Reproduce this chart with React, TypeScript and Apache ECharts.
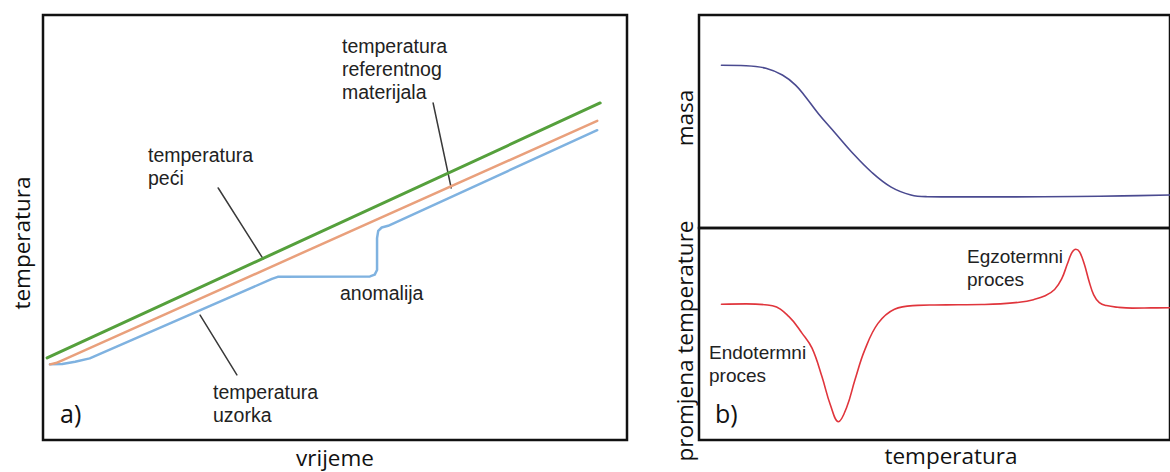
import React, { useEffect, useRef } from "react";
import * as echarts from "echarts";

// ---- Panel a): temperature vs time (x: time 0..100, y: temperature 0..100)
const furnaceTemp: number[][] = [
  [0.7, 19.3],
  [95.4, 79.3],
];
const referenceTemp: number[][] = [
  [1.2, 17.8],
  [2.2, 18.1],
  [3.4, 18.8],
  [94.9, 75.1],
];
const sampleTemp: number[][] = [
  [1.2, 17.8],
  [3.3, 17.9],
  [5.5, 18.4],
  [8.0, 19.2],
  [39.2, 37.9],
  [40.2, 38.4],
  [56.0, 38.5],
  [56.8, 38.9],
  [57.2, 40.0],
  [57.2, 47.5],
  [57.4, 49.2],
  [58.0, 50.0],
  [59.1, 50.4],
  [94.9, 72.9],
];
const leaderFurnace: number[][] = [
  [30.0, 59.3],
  [37.7, 42.6],
];
const leaderReference: number[][] = [
  [66.8, 79.3],
  [69.9, 59.3],
];
const leaderSample: number[][] = [
  [26.9, 29.4],
  [33.2, 15.3],
];

// ---- Panel b): mass and temperature change vs temperature (x: 0..100)
const massCurve: number[][] = [
  [4.77, 76.4],
  [10.0, 76.2],
  [14.2, 75.0],
  [17.7, 71.8],
  [20.5, 67.1],
  [22.6, 61.6],
  [25.4, 53.5],
  [28.9, 44.6],
  [32.4, 35.7],
  [36.6, 26.3],
  [40.8, 19.2],
  [45.0, 15.5],
  [48.5, 14.7],
  [55.0, 14.6],
  [66.0, 14.6],
  [80.0, 14.8],
  [90.0, 15.1],
  [100, 15.5],
];
const deltaTCurve: number[][] = [
  [4.77, 64.0],
  [10.0, 64.2],
  [15.6, 63.3],
  [19.1, 58.2],
  [21.9, 50.3],
  [24.0, 43.3],
  [26.1, 29.9],
  [27.9, 16.5],
  [29.6, 8.6],
  [31.4, 15.7],
  [33.1, 28.3],
  [35.2, 42.5],
  [38.0, 55.0],
  [41.5, 61.7],
  [46.4, 63.5],
  [50.0, 63.7],
  [55.0, 63.8],
  [60.0, 63.9],
  [64.0, 64.2],
  [68.0, 65.0],
  [71.0, 66.2],
  [73.5, 68.0],
  [75.5, 71.0],
  [77.0, 76.0],
  [78.2, 83.0],
  [79.2, 88.5],
  [80.0, 90.0],
  [80.8, 88.7],
  [81.8, 83.0],
  [82.8, 75.0],
  [83.8, 68.5],
  [85.0, 64.8],
  [86.5, 63.4],
  [89.0, 62.6],
  [92.0, 62.2],
  [96.0, 62.3],
  [100, 62.4],
];

const ARIAL = "'Liberation Sans', Arial, sans-serif";
const OPEN = "'Open Sans', sans-serif";

function txt(
  text: string,
  x: number,
  y: number,
  opts: {
    size?: number;
    family?: string;
    align?: string;
    vAlign?: string;
    lineHeight?: number;
    rotation?: number;
    fill?: string;
  } = {}
) {
  const align = opts.align || "left";
  const vAlign = opts.vAlign || "top";
  return {
    type: "text",
    x,
    y,
    rotation: opts.rotation || 0,
    silent: true,
    z: 100,
    style: {
      text,
      fill: opts.fill || "#222",
      fontSize: opts.size || 19.5,
      fontFamily: opts.family || ARIAL,
      lineHeight: opts.lineHeight || 23,
      align,
      textAlign: align,
      verticalAlign: vAlign,
      textVerticalAlign: vAlign,
    },
  };
}

export default function App() {
  const ref = useRef<HTMLDivElement>(null);

  useEffect(() => {
    if (!ref.current) return;
    const chart = echarts.init(ref.current, undefined, { renderer: "svg" });

    const border = { show: true, borderColor: "#111", borderWidth: 2.5, backgroundColor: "transparent" };
    const lineSeries = (data: number[][], idx: number, color: string, width: number, smooth: any = false) => ({
      type: "line",
      xAxisIndex: idx,
      yAxisIndex: idx,
      data,
      smooth,
      symbol: "none",
      showSymbol: false,
      silent: true,
      lineStyle: { color, width, cap: "round", join: "round" },
    });

    chart.setOption({
      animation: false,
      backgroundColor: "#fff",
      grid: [
        { left: 43, top: 15, width: 584, height: 425, ...border },
        { left: 699, top: 15, width: 476, height: 213, ...border },
        { left: 699, top: 228, width: 476, height: 212, ...border },
      ],
      xAxis: [0, 1, 2].map((i) => ({ type: "value", gridIndex: i, min: 0, max: 100, show: false })),
      yAxis: [0, 1, 2].map((i) => ({ type: "value", gridIndex: i, min: 0, max: 100, show: false })),
      series: [
        lineSeries(leaderFurnace, 0, "#3a3a3a", 1.5),
        lineSeries(leaderReference, 0, "#3a3a3a", 1.5),
        lineSeries(leaderSample, 0, "#3a3a3a", 1.5),
        lineSeries(sampleTemp, 0, "#7fb2e0", 2.5),
        lineSeries(referenceTemp, 0, "#e9a07c", 2.5),
        lineSeries(furnaceTemp, 0, "#55a03c", 3),
        lineSeries(massCurve, 1, "#4a4a90", 1.6, 0.4),
        lineSeries(deltaTCurve, 2, "#e0353c", 1.6, 0.4),
      ],
      graphic: [
        txt("temperatura\nreferentnog\nmaterijala", 342, 34),
        txt("temperatura\npeći", 148, 143),
        txt("anomalija", 340, 293, { vAlign: "middle" }),
        txt("temperatura\nuzorka", 213, 380),
        txt("Endotermni\nproces", 709, 341, { size: 19 }),
        txt("Egzotermni\nproces", 967, 245, { size: 19 }),
        txt("a)", 60, 413, { size: 25, family: OPEN, vAlign: "middle", fill: "#111" }),
        txt("b)", 715, 413, { size: 25, family: OPEN, vAlign: "middle", fill: "#111" }),
        txt("vrijeme", 335, 457, { size: 22.5, family: OPEN, align: "center", vAlign: "middle", fill: "#111" }),
        txt("temperatura", 951, 455, { size: 22.5, family: OPEN, align: "center", vAlign: "middle", fill: "#111" }),
        txt("temperatura", 21, 243, {
          size: 22.5,
          family: OPEN,
          align: "center",
          vAlign: "middle",
          rotation: Math.PI / 2,
          fill: "#111",
        }),
        txt("masa", 684, 118, {
          size: 22.5,
          family: OPEN,
          align: "center",
          vAlign: "middle",
          rotation: Math.PI / 2,
          fill: "#111",
        }),
        txt("promjena temperature", 684, 341, {
          size: 22.5,
          family: OPEN,
          align: "center",
          vAlign: "middle",
          rotation: Math.PI / 2,
          fill: "#111",
        }),
      ],
    });

    return () => {
      chart.dispose();
    };
  }, []);

  return (
    <div
      ref={ref}
      style={{ position: "absolute", left: 0, top: 0, width: 1170, height: 472, background: "#fff" }}
    />
  );
}
